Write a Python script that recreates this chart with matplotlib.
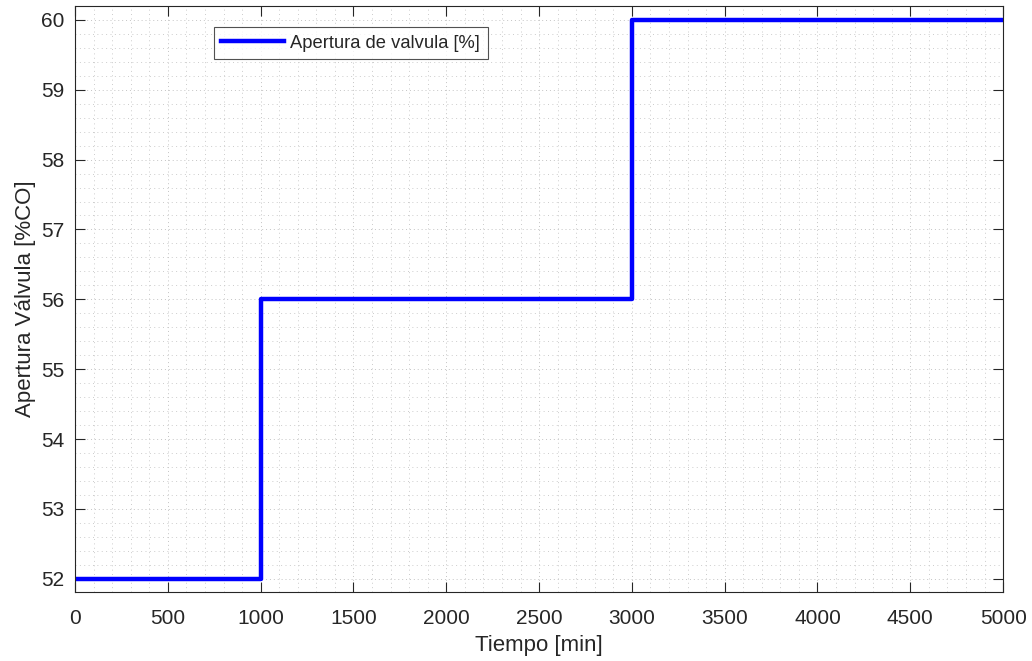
import numpy as np
import matplotlib.pyplot as plt
from matplotlib.ticker import MultipleLocator

plt.rcParams['font.family'] = ['Liberation Sans', 'DejaVu Sans']

# valve opening steps
t_step = [0, 1000, 3000, 5000]
apertura = [52, 56, 60, 60]

txt = '#262626'

fig = plt.figure(figsize=(10.32, 6.61), dpi=100)
ax = fig.add_axes([0.0727, 0.1044, 0.8993, 0.8866])

ax.plot(t_step, apertura, drawstyle='steps-post', color='#0000ff', lw=3.2,
        label='Apertura de valvula [%]')

ax.set_xlim(0, 5000)
ax.set_ylim(51.81, 60.2)
ax.xaxis.set_major_locator(MultipleLocator(500))
ax.xaxis.set_minor_locator(MultipleLocator(100))
ax.yaxis.set_major_locator(MultipleLocator(1))
ax.yaxis.set_minor_locator(MultipleLocator(0.2))

ax.grid(which='major', color='#c4c4c4', lw=0.7, ls=(0, (1, 3)))
ax.grid(which='minor', color='#cccccc', lw=0.7, ls=(0, (1, 3.5)))
ax.set_axisbelow(True)

ax.tick_params(which='major', direction='in', top=True, right=True,
               length=7, width=0.8, colors=txt, labelsize=15, pad=8)
ax.tick_params(which='major', axis='x', pad=12)
ax.tick_params(which='minor', length=0, top=True, right=True)
for s in ax.spines.values():
    s.set_color(txt)
    s.set_linewidth(0.8)

ax.set_xlabel('Tiempo [min]', fontsize=16, color=txt, labelpad=5)
ax.set_ylabel('Apertura Válvula [%CO]', fontsize=16, color=txt, labelpad=3)

leg = ax.legend(loc='upper left', bbox_to_anchor=(0.1495, 0.964), fontsize=13.2,
                frameon=True, fancybox=False, edgecolor='#262626',
                handlelength=3.4, borderpad=0.42, handletextpad=0.35,
                borderaxespad=0)
leg.get_frame().set_linewidth(0.8)
for t in leg.get_texts():
    t.set_color(txt)

fig.savefig('out.png', dpi=100)
